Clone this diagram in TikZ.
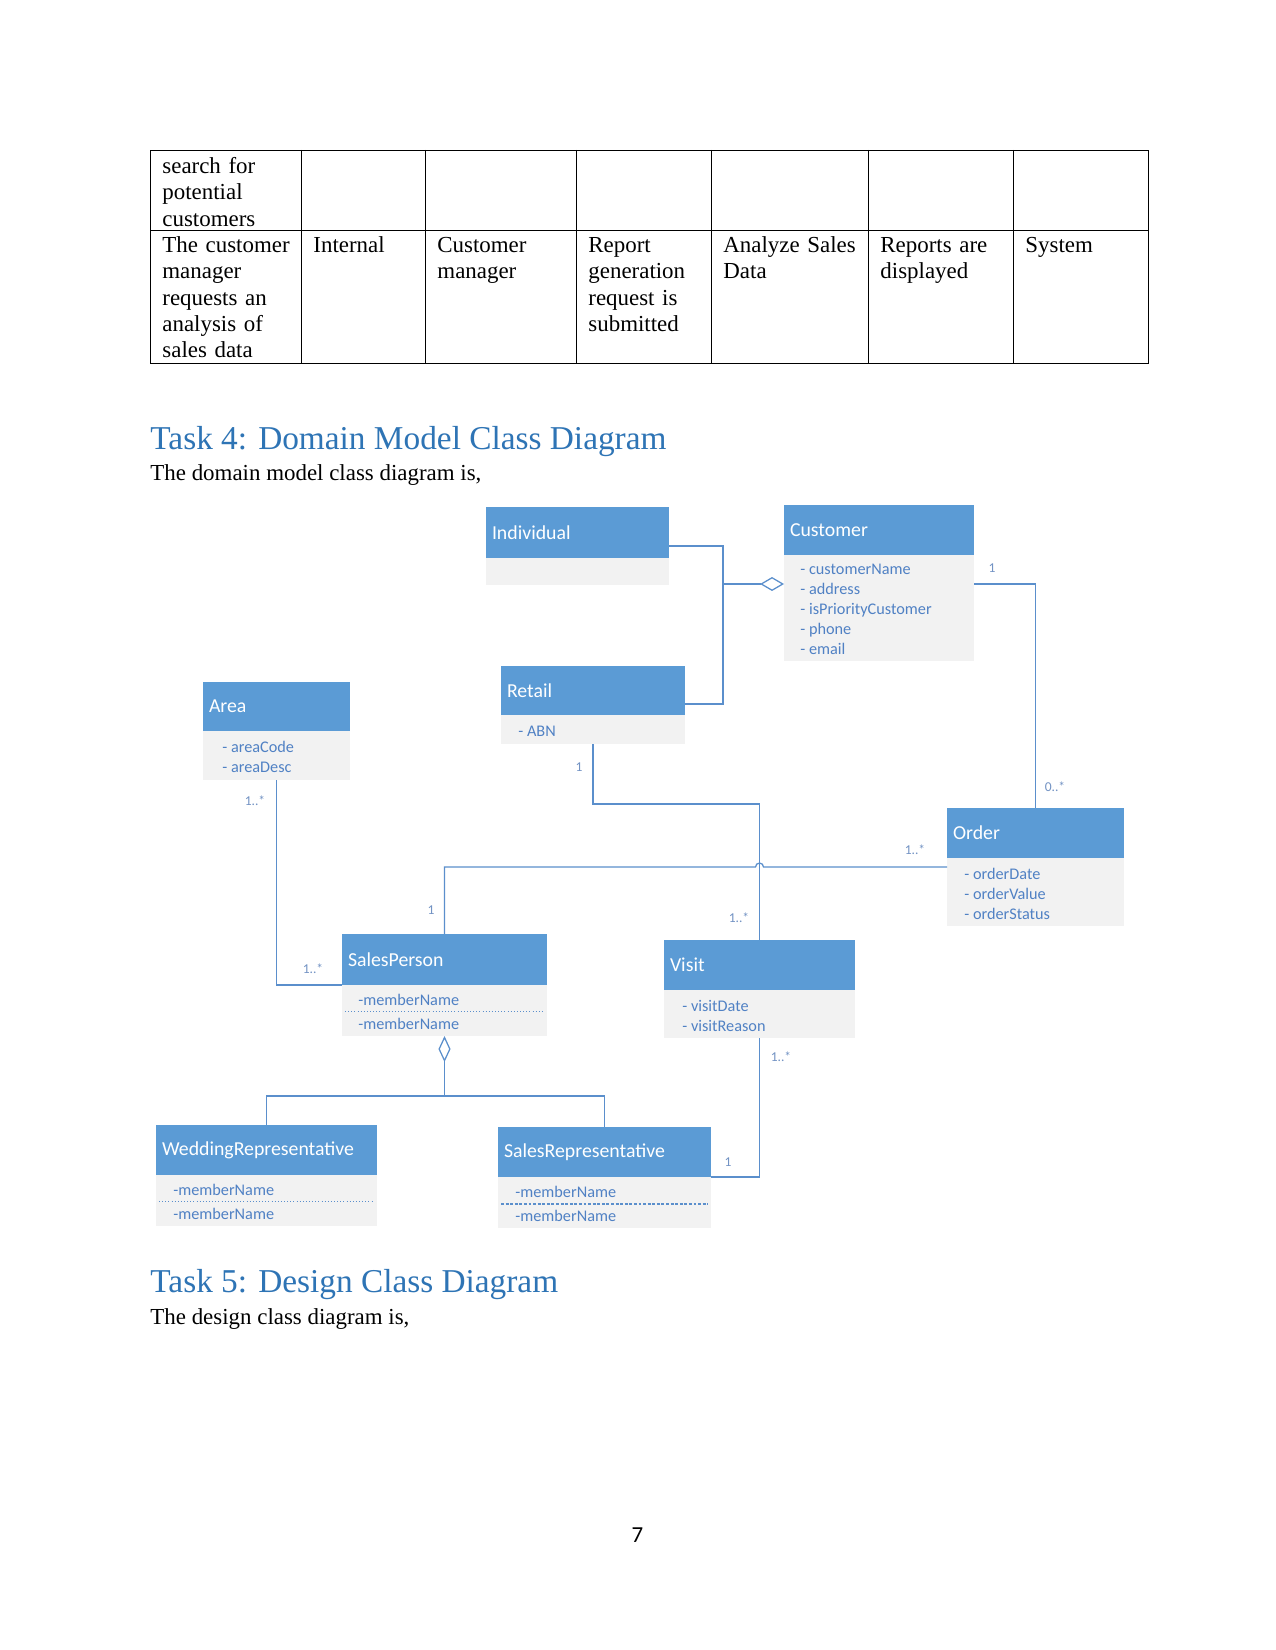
\documentclass[tikz,border=0pt]{standalone}
\usepackage{fontspec}
\setmainfont{Liberation Serif}
\newfontfamily\calfont{Carlito}
\usetikzlibrary{arrows.meta,calc}
\definecolor{hdrblue}{HTML}{5B9BD5}
\definecolor{bodygray}{HTML}{F2F2F2}
\definecolor{attrblue}{HTML}{5081C4}
\definecolor{lineblue}{HTML}{5B8FCC}
\definecolor{headblue}{HTML}{2E74B5}
\definecolor{lblblue}{HTML}{7393C4}
\tikzset{
  hdr/.style={fill=hdrblue, text=white, font=\calfont\fontsize{9.5}{11}\selectfont, anchor=north west, inner xsep=2.88pt, inner ysep=0pt, outer sep=0pt, align=left},
  bodybox/.style={fill=bodygray, anchor=north west, inner sep=0pt, outer sep=0pt},
  attr/.style={text=attrblue, font=\calfont\fontsize{7.8}{9.6}\selectfont, anchor=west, align=left, inner sep=0pt},
  attrtwo/.style={attr, font=\calfont\fontsize{7.8}{11.5}\selectfont},
  conn/.style={draw=lineblue, line width=0.6pt},
  divline/.style={draw=lineblue, line width=0.5pt, densely dotted},
  mult/.style={text=lblblue, font=\calfont\fontsize{6.5}{7}\selectfont, inner sep=0pt},
  cell/.style={anchor=base west, inner sep=0pt, align=left, text width=110pt, font=\fontsize{11}{12.65}\selectfont},
  tbl/.style={draw=black, line width=0.4pt},
  heading/.style={anchor=base west, inner sep=0pt, text=headblue, font=\fontsize{16}{19}\selectfont},
  bodytext/.style={anchor=base west, inner sep=0pt, font=\fontsize{11}{12.65}\selectfont},
}
\newcommand\umlclass[7]{%
  \pgfmathsetmacro\tw{(#4-12)*0.48}%
  \pgfmathsetmacro\hh{#5*0.48}%
  \pgfmathsetmacro\bh{#6*0.48}%
  \pgfmathsetmacro\ww{#4*0.48}%
  \node[hdr, text width=\tw pt, minimum height=\hh pt] (#1) at (#2,#3) {#7};
  \node[bodybox, minimum width=\ww pt, minimum height=\bh pt] (#1-b) at (#1.south west) {};
}
\begin{document}
\begin{tikzpicture}[x=0.48pt, y=-0.48pt]
\path[use as bounding box, fill=white] (0,0) rectangle (1275,1650);

% ---------- table ----------
\draw[tbl] (150,150) rectangle (1148,363);
\draw[tbl] (150,230) -- (1148,230);
\foreach \cx in {301,425,576.5,711,868,1013} \draw[tbl] (\cx,150) -- (\cx,363);

\node[cell] (c11) at (162,173.5) {search for\\potential\\customers};
\node[cell] (c21) at (162,252.5) {The customer\\manager\\requests an\\analysis of\\sales data};
\node[cell] (c22) at (313,252.5) {Internal};
\node[cell] (c23) at (437,252.5) {Customer\\manager};
\node[cell] (c24) at (588,252.5) {Report\\generation\\request is\\submitted};
\node[cell] (c25) at (723,252.5) {Analyze Sales\\Data};
\node[cell] (c26) at (880,252.5) {Reports are\\displayed};
\node[cell] (c27) at (1025,252.5) {System};

% ---------- headings ----------
\node[heading] (h4) at (150,449.5) {Task 4: Domain Model Class Diagram};
\node[bodytext] (t4) at (150,480.5) {The domain model class diagram is,};
\node[heading] (h5) at (150,1292.5) {Task 5: Design Class Diagram};
\node[bodytext] (t5) at (150,1324.5) {The design class diagram is,};
\node[anchor=base, inner sep=0pt, font=\calfont\fontsize{11}{13}\selectfont] (pg) at (637.5,1542) {7};

% ---------- classes ----------
\umlclass{ind}{486}{507}{183}{51}{27}{Individual}
\umlclass{cust}{784}{505}{190}{50}{106}{Customer}
\umlclass{ret}{501}{666}{184}{49}{29}{Retail}
\umlclass{area}{203}{682}{147}{49}{49}{Area}
\umlclass{ord}{947}{808}{177}{50}{68}{Order}
\umlclass{sp}{342}{934}{205}{51}{51}{SalesPerson}
\umlclass{vis}{664}{940}{191}{50}{48}{Visit}
\umlclass{wed}{156}{1125}{221}{50}{51}{WeddingRepresentative}
\umlclass{srep}{498}{1127}{213}{50}{51}{SalesRepresentative}

\node[attr] (cust-a) at ($(cust-b.west)+(16,1.5)$) {- customerName\\- address\\- isPriorityCustomer\\- phone\\- email};
\node[attr] (ret-a) at ($(ret-b.west)+(17,1.5)$) {- ABN};
\node[attr] (area-a) at ($(area-b.west)+(19,1.5)$) {- areaCode\\- areaDesc};
\node[attr] (ord-a) at ($(ord-b.west)+(17,1.5)$) {- orderDate\\- orderValue\\- orderStatus};
\node[attr] (vis-a) at ($(vis-b.west)+(18,1.5)$) {- visitDate\\- visitReason};
\node[attrtwo] (sp-a) at ($(sp-b.west)+(16,1.5)$) {-memberName\\-memberName};
\node[attrtwo] (wed-a) at ($(wed-b.west)+(17,1.5)$) {-memberName\\-memberName};
\node[attrtwo] (srep-a) at ($(srep-b.west)+(17,1.5)$) {-memberName\\-memberName};
\draw[divline] ($(sp-b.west)+(3,1)$) -- ($(sp-b.east)+(-3,1)$);
\draw[divline] ($(wed-b.west)+(3,1)$) -- ($(wed-b.east)+(-3,1)$);
\draw[divline, dash pattern=on 1.4pt off 0.8pt] ($(srep-b.west)+(3,1.5)$) -- ($(srep-b.east)+(-3,1.5)$);

% ---------- connectors ----------
\coordinate (j1) at (723,546);
\coordinate (j2) at (723,704);
\coordinate (j3) at (723,584);
\draw[conn] (ind.east |- j1) -- (j1) -- (j2) -- (ret.east |- j2);
\draw[conn, -{Diamond[open, length=11.5pt, width=6.7pt]}] (j3) -- (cust-b.west |- j3);

\coordinate (co) at (1035,584);
\draw[conn] (cust-b.east |- co) -| (ord.north);

\coordinate (rv) at (vis.north |- 0,804);
\draw[conn] (ret-b.south) |- (rv) -- (vis.north);

\coordinate (so) at (vis.north |- 0,867);
\draw[conn] (sp.north) |- ($(so)+(-4,0)$) arc[start angle=180, end angle=360, radius=4] -- (ord-b.west |- so);

\draw[conn] (area-b.south) |- (sp.south west);
\draw[conn] (vis-b.south) |- (srep.south east);

\coordinate (jn) at (sp-b.south |- 0,1096);
\draw[conn, {Diamond[open, length=12.5pt, width=5.8pt]}-] (sp-b.south) -- (jn);
\draw[conn] (wed.north) |- (jn) -| (srep.north);

% ---------- multiplicities ----------
\node[mult] (m1) at (992,568) {1};
\node[mult] (m2) at (1055,787) {0..*};
\node[mult] (m3) at (579,767) {1};
\node[mult] (m4) at (739,918) {1..*};
\node[mult] (m5) at (431,910) {1};
\node[mult] (m6) at (915,850) {1..*};
\node[mult] (m7) at (255,801) {1..*};
\node[mult] (m8) at (313,969) {1..*};
\node[mult] (m9) at (781,1057) {1..*};
\node[mult] (m10) at (728,1162) {1};
\end{tikzpicture}
\end{document}
